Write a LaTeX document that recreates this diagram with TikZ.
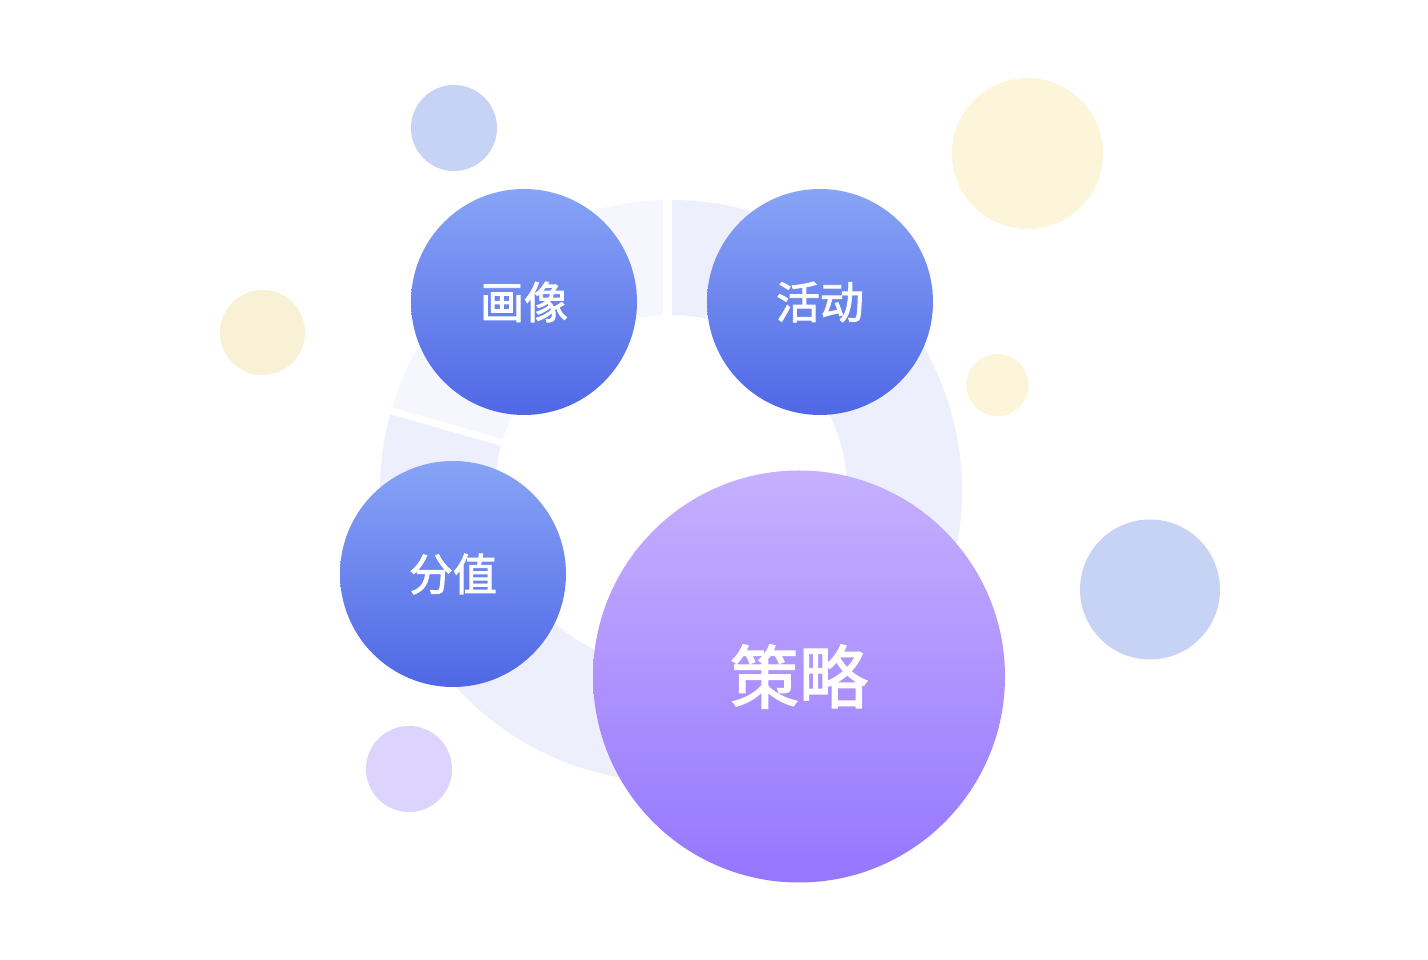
\documentclass[tikz,border=0pt]{standalone}
\usepackage{fontspec}
\newfontfamily\cjk[FakeBold=2]{Noto Sans CJK SC}
\definecolor{ringlight}{HTML}{F5F6FE}
\definecolor{ringdark}{HTML}{EDEFFC}
\definecolor{decoblue}{HTML}{C6D3F5}
\definecolor{decoyellow}{HTML}{FCF5DA}
\definecolor{decoyellowb}{HTML}{F8F1D6}
\definecolor{decolav}{HTML}{DCD4FD}
\definecolor{bluetop}{HTML}{88A4F6}
\definecolor{bluebot}{HTML}{4F67E5}
\definecolor{purtop}{HTML}{C6B0FE}
\definecolor{purbot}{HTML}{9576FE}
\tikzset{
  bubble/.style={circle, inner sep=0pt, outer sep=0pt, text=white,
    font=\cjk\fontsize{44}{44}\selectfont, minimum size=226pt,
    top color=bluetop, bottom color=bluebot},
  bigbubble/.style={circle, inner sep=0pt, outer sep=0pt, text=white,
    font=\cjk\fontsize{69}{69}\selectfont, minimum size=412pt,
    top color=purtop, bottom color=purbot},
  gapline/.style={white, line width=#1}
}
\begin{document}
\begin{tikzpicture}[x=1pt,y=1pt]
\useasboundingbox (0,0) rectangle (1428,960);
\fill[white] (0,0) rectangle (1428,960);
% decorative circles
\fill[decoblue] (454,832) circle[radius=43];
\fill[decoyellow] (1027.5,806.5) circle[radius=75.5];
\fill[decoyellowb] (262.5,627.5) circle[radius=42.5];
\fill[decoyellow] (997.5,575) circle[radius=31];
\fill[decoblue] (1150,370.5) circle[radius=70];
\fill[decolav] (409,191) circle[radius=43];
% ring
\begin{scope}[shift={(671,469)}]
  \fill[ringdark] (164:291) arc[start angle=164, end angle=450.86, radius=291]
     -- (450.86:176) arc[start angle=450.86, end angle=164, radius=176] -- cycle;
  \fill[ringlight] (90.86:291) arc[start angle=90.86, end angle=164, radius=291]
     -- (164:176) arc[start angle=164, end angle=90.86, radius=176] -- cycle;
  \coordinate (g1a) at (-3.5,165);
  \coordinate (g1b) at (-3.5,300);
  \coordinate (g2a) at (164:165);
  \coordinate (g2b) at (164:300);
  \draw[gapline=9] (g1a) -- (g1b);
  \draw[gapline=7] (g2a) -- (g2b);
\end{scope}
% bubbles
\node[bubble] (huaxiang) at (524,658) {画像};
\node[bubble] (huodong) at (820,658) {活动};
\node[bubble] (fenzhi) at (453,386) {分值};
\node[bigbubble] (celue) at (799,283.5) {策略};
\end{tikzpicture}
\end{document}
